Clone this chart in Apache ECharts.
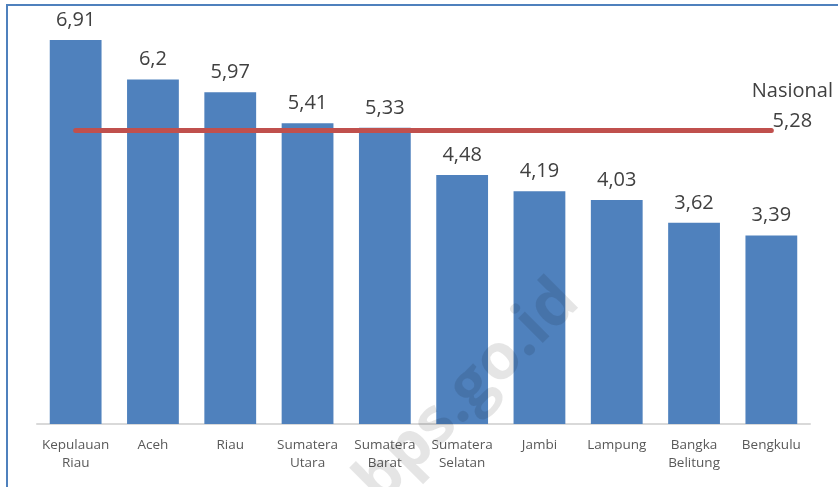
<!DOCTYPE html>
<html>
<head>
<meta charset="utf-8">
<script src="https://cdn.jsdelivr.net/npm/echarts@6/dist/echarts.min.js"></script>
<style>
  html, body { margin: 0; padding: 0; background: #fff; }
  #main { width: 838px; height: 487px; }
</style>
</head>
<body>
<div id="main"></div>
<script>
// provinsi dan nilai
var categories = ["Kepulauan\nRiau", "Aceh", "Riau", "Sumatera\nUtara", "Sumatera\nBarat",
  "Sumatera\nSelatan", "Jambi", "Lampung", "Bangka\nBelitung", "Bengkulu"];
var values = [6.91, 6.2, 5.97, 5.41, 5.33, 4.48, 4.19, 4.03, 3.62, 3.39];
var nasional = 5.28;
var nasionalLine = categories.map(function () { return nasional; });

function koma(v) { return String(v).replace(".", ","); }

var myChart = echarts.init(document.getElementById("main"));
myChart.setOption({
  animation: false,
  grid: { left: 37, right: 28, top: 35, bottom: 63 },
  xAxis: {
    type: "category",
    data: categories,
    axisLine: { lineStyle: { color: "#d9d9d9", width: 2 } },
    axisTick: { show: false },
    axisLabel: {
      interval: 0,
      color: "#595959",
      fontFamily: "Open Sans",
      fontSize: 13.5,
      lineHeight: 18,
      margin: 12
    }
  },
  yAxis: {
    type: "value",
    min: 0,
    max: 7,
    show: false,
    splitLine: { show: false }
  },
  graphic: [
    {
      type: "rect",
      shape: { x: 7, y: 5, width: 850, height: 500 },
      style: { fill: "none", stroke: "#4F81BD", lineWidth: 2 },
      z: 0
    },
    {
      type: "text",
      x: 468,
      y: 392,
      rotation: Math.PI / 4,
      style: {
        text: "bps.go.id",
        font: "bold 64px 'Open Sans'",
        fill: "rgba(0,0,0,0.1)",
        textAlign: "center",
        textVerticalAlign: "middle"
      },
      z: 100
    }
  ],
  series: [
    {
      type: "bar",
      data: values,
      barCategoryGap: "33%",
      itemStyle: { color: "#4F81BD" },
      label: {
        show: true,
        position: "top",
        distance: 10,
        color: "#404040",
        fontFamily: "Open Sans",
        fontSize: 20,
        formatter: function (p) { return koma(p.value); }
      }
    },
    {
      type: "line",
      data: nasionalLine,
      symbol: "none",
      lineStyle: { color: "#C0504D", width: 5, cap: "round" },
      label: { show: false },
      endLabel: {
        show: true,
        offset: [13, -24],
        color: "#404040",
        fontFamily: "Open Sans",
        fontSize: 20,
        lineHeight: 30,
        align: "center",
        formatter: function () { return "Nasional\n" + koma(nasional); }
      }
    }
  ]
});
</script>
</body>
</html>
